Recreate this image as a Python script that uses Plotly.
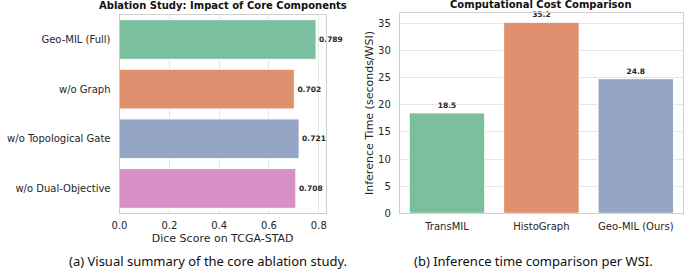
import plotly.graph_objects as go

# ---- data ----
ablation_labels = ["Geo-MIL (Full)", "w/o Graph", "w/o Topological Gate", "w/o Dual-Objective"]
ablation_dice = [0.789, 0.702, 0.721, 0.708]
ablation_colors = ["#7cbf9f", "#e0906f", "#95a5c6", "#d690c5"]

cost_methods = ["TransMIL", "HistoGraph", "Geo-MIL (Ours)"]
cost_time = [18.5, 35.2, 24.8]
cost_colors = ["#7cbf9f", "#e0906f", "#95a5c6"]

dice_ticks = [0.0, 0.2, 0.4, 0.6, 0.8]
time_ticks = [0, 5, 10, 15, 20, 25, 30, 35]

W, H = 685, 277
TICK = "#262626"
GRID = "#e6e6e6"
SPINE = "#d0d0d0"
FONT = "DejaVu Sans"
CAP_FONT = "Noto Sans"

fig = go.Figure()

fig.add_trace(go.Bar(
    x=ablation_dice, y=ablation_labels, orientation="h",
    marker=dict(color=ablation_colors, line=dict(color="white", width=1)),
    width=0.8,
    text=[f"{v:.3f}" for v in ablation_dice], textposition="outside",
    textfont=dict(family=FONT, size=7.5, color="#262626", weight="bold"),
    cliponaxis=False, xaxis="x", yaxis="y", showlegend=False,
))

fig.add_trace(go.Bar(
    x=cost_methods, y=cost_time,
    marker=dict(color=cost_colors, line=dict(color="white", width=1)),
    width=0.8,
    text=[f"{v:.1f}" for v in cost_time], textposition="outside",
    textfont=dict(family=FONT, size=7.5, color="#262626", weight="bold"),
    cliponaxis=False, xaxis="x2", yaxis="y2", showlegend=False,
))

def px_x(p):
    return p / W

def px_y(p):
    return 1 - p / H

axis_common = dict(showline=True, linecolor=SPINE, linewidth=1, mirror=True,
                   ticks="", tickfont=dict(family=FONT, size=10, color=TICK),
                   zeroline=False)

fig.update_layout(
    width=W, height=H,
    margin=dict(l=0, r=0, t=0, b=0),
    paper_bgcolor="white", plot_bgcolor="white",
    font=dict(family=FONT, color=TICK),
    uniformtext=dict(minsize=6, mode="show"),
    xaxis=dict(domain=[px_x(113), px_x(322)], anchor="y",
               range=[0, 0.828], tickvals=dice_ticks,
               ticktext=[f"{t:.1f}" for t in dice_ticks],
               showgrid=True, gridcolor=GRID, gridwidth=1,
               ticklabelstandoff=3,
               title=dict(text="Dice Score on TCGA-STAD",
                          font=dict(family=FONT, size=11, color=TICK), standoff=4),
               **axis_common),
    yaxis=dict(domain=[px_y(218), px_y(15)], anchor="x",
               type="category", range=[3.5, -0.5], showgrid=False,
               ticklabelstandoff=6,
               **axis_common),
    xaxis2=dict(domain=[px_x(397), px_x(684)], anchor="y2",
                type="category", range=[-0.5, 2.5], showgrid=False,
                ticklabelstandoff=4,
                **axis_common),
    yaxis2=dict(domain=[px_y(218), px_y(13)], anchor="x2",
                range=[0, 36.96], tickvals=time_ticks,
                showgrid=True, gridcolor=GRID, gridwidth=1,
                ticklabelstandoff=6,
                title=dict(text="Inference Time (seconds/WSI)",
                           font=dict(family=FONT, size=11, color=TICK), standoff=2),
                **axis_common),
    annotations=[
        dict(text="<b>Ablation Study: Impact of Core Components</b>",
             x=px_x(217.5), y=px_y(6), xref="paper", yref="paper",
             xanchor="center", yanchor="middle", showarrow=False,
             font=dict(family=FONT, size=10, color="#111111")),
        dict(text="<b>Computational Cost Comparison</b>",
             x=px_x(540.5), y=px_y(5), xref="paper", yref="paper",
             xanchor="center", yanchor="middle", showarrow=False,
             font=dict(family=FONT, size=10, color="#111111")),
        dict(text="(a) Visual summary of the core ablation study.",
             x=px_x(203), y=px_y(267), xref="paper", yref="paper",
             xanchor="center", yanchor="middle", showarrow=False,
             font=dict(family=CAP_FONT, size=13, color="#111111")),
        dict(text="(b) Inference time comparison per WSI.",
             x=px_x(533), y=px_y(267), xref="paper", yref="paper",
             xanchor="center", yanchor="middle", showarrow=False,
             font=dict(family=CAP_FONT, size=13, color="#111111")),
    ],
)

fig.write_html(
    "out.html",
    config={"displayModeBar": False},
    post_script="document.body.style.margin='0';document.body.style.overflow='hidden';",
)
